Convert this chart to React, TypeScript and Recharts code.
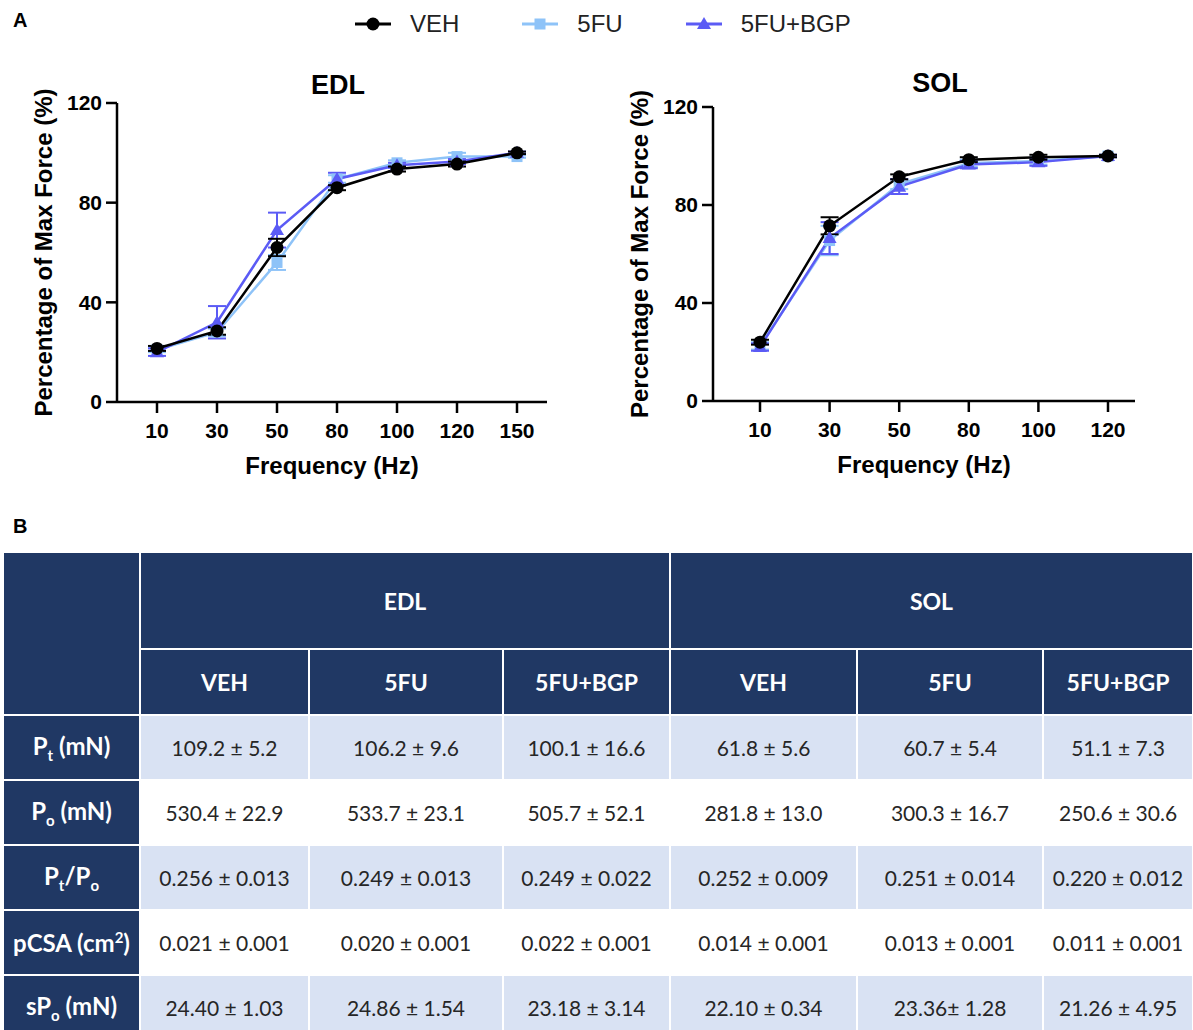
import React from "react";
import { LineChart, Line, XAxis, YAxis, ErrorBar } from "recharts";

// EDL frequency-force data (% of max force)
const edlFreq = ["10", "30", "50", "80", "100", "120", "150"];
const edlVeh = [21.5, 28.5, 62, 86, 93.5, 95.5, 100];
const edlVehErr = [1, 1.5, 3.5, 1, 1, 1, 0.5];
const edl5fu = [21, 28, 56, 89.5, 96, 98.5, 98.5];
const edl5fuErr = [1, 1.5, 3, 1.5, 1, 1.5, 0.5];
const edlBgp = [20, 32, 69, 89.5, 95, 96.5, 100];
const edlBgpErr = [1.5, 6.5, 7, 2.5, 1, 1, 0.5];

// SOL frequency-force data
const solFreq = ["10", "30", "50", "80", "100", "120"];
const solVeh = [24, 71.5, 91.5, 98.5, 99.5, 100];
const solVehErr = [1, 3.5, 1, 1, 1, 0.5];
const sol5fu = [22.5, 65.5, 88.5, 97, 98, 100];
const sol5fuErr = [1.5, 6, 2, 1.5, 1.5, 0.5];
const solBgp = [22, 66.5, 87.5, 96.5, 97.5, 100];
const solBgpErr = [1.5, 6.5, 3, 1.5, 1.5, 0.5];

const yTicks = [0, 40, 80, 120];

// table B
const groups = ["EDL", "SOL"];
const groupCols = ["VEH", "5FU", "5FU+BGP"];
const ptRow = ["109.2 ± 5.2", "106.2 ± 9.6", "100.1 ± 16.6", "61.8 ± 5.6", "60.7 ± 5.4", "51.1 ± 7.3"];
const poRow = ["530.4 ± 22.9", "533.7 ± 23.1", "505.7 ± 52.1", "281.8 ± 13.0", "300.3 ± 16.7", "250.6 ± 30.6"];
const ratioRow = ["0.256 ± 0.013", "0.249 ± 0.013", "0.249 ± 0.022", "0.252 ± 0.009", "0.251 ± 0.014", "0.220 ± 0.012"];
const pcsaRow = ["0.021 ± 0.001", "0.020 ± 0.001", "0.022 ± 0.001", "0.014 ± 0.001", "0.013 ± 0.001", "0.011 ± 0.001"];
const spoRow = ["24.40 ± 1.03", "24.86 ± 1.54", "23.18 ± 3.14", "22.10 ± 0.34", "23.36± 1.28", "21.26 ± 4.95"];

const NAVY = "#203864";
const LIGHT = "#D9E2F3";
const C_VEH = "#000000";
const C_5FU = "#8EC3F8";
const C_BGP = "#5B5BF5";
const ARIAL = "'Liberation Sans', Arial, sans-serif";
const CAL = "Lato, 'Noto Sans', sans-serif";

const series = [
  { key: "fu", name: "5FU", color: C_5FU, shape: "square" },
  { key: "bgp", name: "5FU+BGP", color: C_BGP, shape: "triangle" },
  { key: "veh", name: "VEH", color: C_VEH, shape: "circle" },
];

const build = (f: string[], veh: number[], vehE: number[], fu: number[], fuE: number[], bgp: number[], bgpE: number[]) =>
  f.map((x, i) => ({ f: x, veh: veh[i], vehErr: vehE[i], fu: fu[i], fuErr: fuE[i], bgp: bgp[i], bgpErr: bgpE[i] }));

const edlData = build(edlFreq, edlVeh, edlVehErr, edl5fu, edl5fuErr, edlBgp, edlBgpErr);
const solData = build(solFreq, solVeh, solVehErr, sol5fu, sol5fuErr, solBgp, solBgpErr);

function Marker({ shape, color, cx, cy }: { shape: string; color: string; cx: number; cy: number }) {
  if (shape === "square") return <rect x={cx - 5.5} y={cy - 5.5} width={11} height={11} fill={color} />;
  if (shape === "triangle")
    return <polygon points={`${cx},${cy - 7} ${cx + 7},${cy + 5} ${cx - 7},${cy + 5}`} fill={color} />;
  return <circle cx={cx} cy={cy} r={6.5} fill={color} />;
}

function YTitle(props: any) {
  const vb = props.viewBox || {};
  const y = (vb.y ?? 0) + (vb.height ?? 0) / 2;
  const x = (vb.x ?? 0) + 43;
  return (
    <text x={x} y={y} transform={`rotate(-90, ${x}, ${y})`} textAnchor="middle" dominantBaseline="central"
      fontFamily={ARIAL} fontWeight={700} fontSize={24} fill="#000">
      Percentage of Max Force (%)
    </text>
  );
}

function ForceChart({ data, width, height, top, padL, padR }: any) {
  return (
    <LineChart width={width} height={height} data={data} margin={{ top, right: 13, left: 0, bottom: 10 }}>
      <XAxis dataKey="f" interval={0} padding={{ left: padL, right: padR }} height={77}
        axisLine={{ stroke: "#000", strokeWidth: 2.5 }} tickLine={{ stroke: "#000", strokeWidth: 2.5 }}
        tickSize={11} tickMargin={10}
        tick={{ fill: "#000", fontSize: 21, fontWeight: 700, fontFamily: ARIAL }}
        label={{ value: "Frequency (Hz)", position: "insideBottom", offset: 5, fill: "#000", fontSize: 24, fontWeight: 700, fontFamily: ARIAL }} />
      <YAxis domain={[0, 120]} ticks={yTicks} width={117} interval={0}
        axisLine={{ stroke: "#000", strokeWidth: 2.5 }} tickLine={{ stroke: "#000", strokeWidth: 2.5 }}
        tickSize={11} tickMargin={4}
        tick={{ fill: "#000", fontSize: 21, fontWeight: 700, fontFamily: ARIAL }}
        label={<YTitle />} />
      {series.map((s) => (
        <Line key={s.key} dataKey={s.key} stroke={s.color} strokeWidth={2.5} isAnimationActive={false}
          dot={(p: any) => <Marker key={`${s.key}-${p.index}`} shape={s.shape} color={s.color} cx={p.cx} cy={p.cy} />}
          activeDot={false}>
          <ErrorBar dataKey={`${s.key}Err`} width={9} strokeWidth={2} stroke={s.color} direction="y" />
        </Line>
      ))}
    </LineChart>
  );
}

function LegendIcon({ shape, color }: { shape: string; color: string }) {
  return (
    <svg width={36} height={20} style={{ marginRight: 19 }}>
      <line x1={0} y1={10} x2={36} y2={10} stroke={color} strokeWidth={3} />
      <Marker shape={shape} color={color} cx={18} cy={10} />
    </svg>
  );
}

function RowLabel({ i }: { i: number }) {
  const sub = { fontSize: 15, verticalAlign: "-6px" } as const;
  if (i === 0) return <>P<span style={sub}>t</span> (mN)</>;
  if (i === 1) return <>P<span style={sub}>o</span> (mN)</>;
  if (i === 2) return <>P<span style={sub}>t</span>/P<span style={sub}>o</span></>;
  if (i === 3) return <>pCSA (cm<sup style={{ fontSize: 15 }}>2</sup>)</>;
  return <>sP<span style={sub}>o</span> (mN)</>;
}

export default function App() {
  const rows = [ptRow, poRow, ratioRow, pcsaRow, spoRow];
  const colW = [137, 169, 194, 167, 187, 186, 150];
  const cell: React.CSSProperties = { border: "2px solid #fff", textAlign: "center", padding: 0 };
  return (
    <div style={{ position: "absolute", left: 0, top: 0, width: 1193, height: 1030, overflow: "hidden", background: "#fff" }}>
      <div style={{ position: "absolute", left: 13, top: 9, fontFamily: ARIAL, fontWeight: 700, fontSize: 20 }}>A</div>
      <div style={{ position: "absolute", left: 355, top: 10, display: "flex", alignItems: "center", fontFamily: ARIAL, fontSize: 24, color: "#222" }}>
        {[series[2], series[0], series[1]].map((s) => (
          <div key={s.key} style={{ display: "flex", alignItems: "center", marginRight: 63 }}>
            <LegendIcon shape={s.shape} color={s.color} />
            <span>{s.name}</span>
          </div>
        ))}
      </div>
      <div style={{ position: "absolute", left: 338, top: 70, transform: "translateX(-50%)", fontFamily: ARIAL, fontWeight: 700, fontSize: 27 }}>EDL</div>
      <div style={{ position: "absolute", left: 940, top: 68, transform: "translateX(-50%)", fontFamily: ARIAL, fontWeight: 700, fontSize: 27 }}>SOL</div>
      <div style={{ position: "absolute", left: 0, top: 0 }}>
        <ForceChart data={edlData} width={560} height={489} top={103} padL={40} padR={30} />
      </div>
      <div style={{ position: "absolute", left: 596, top: 0 }}>
        <ForceChart data={solData} width={552} height={488} top={107} padL={47} padR={27} />
      </div>
      <div style={{ position: "absolute", left: 13, top: 515, fontFamily: ARIAL, fontWeight: 700, fontSize: 20 }}>B</div>
      <table style={{ position: "absolute", left: 2, top: 551, width: 1192, borderCollapse: "collapse", tableLayout: "fixed", fontFamily: CAL }}>
        <colgroup>
          {colW.map((w, i) => <col key={i} style={{ width: w }} />)}
        </colgroup>
        <tbody>
          <tr style={{ height: 97 }}>
            <td style={{ ...cell, background: NAVY }} rowSpan={2} />
            {groups.map((g) => (
              <td key={g} colSpan={3} style={{ ...cell, background: NAVY, color: "#fff", fontWeight: 700, fontSize: 23 }}>{g}</td>
            ))}
          </tr>
          <tr style={{ height: 66 }}>
            {groups.flatMap((g) => groupCols.map((c) => (
              <td key={g + c} style={{ ...cell, background: NAVY, color: "#fff", fontWeight: 700, fontSize: 23 }}>{c}</td>
            )))}
          </tr>
          {rows.map((r, i) => (
            <tr key={i} style={{ height: 65 }}>
              <td style={{ ...cell, background: NAVY, color: "#fff", fontWeight: 700, fontSize: 24, whiteSpace: "nowrap" }}><RowLabel i={i} /></td>
              {r.map((v, j) => (
                <td key={j} style={{ ...cell, background: i % 2 === 0 ? LIGHT : "#fff", color: "#262626", fontSize: 21 }}>{v}</td>
              ))}
            </tr>
          ))}
        </tbody>
      </table>
    </div>
  );
}
